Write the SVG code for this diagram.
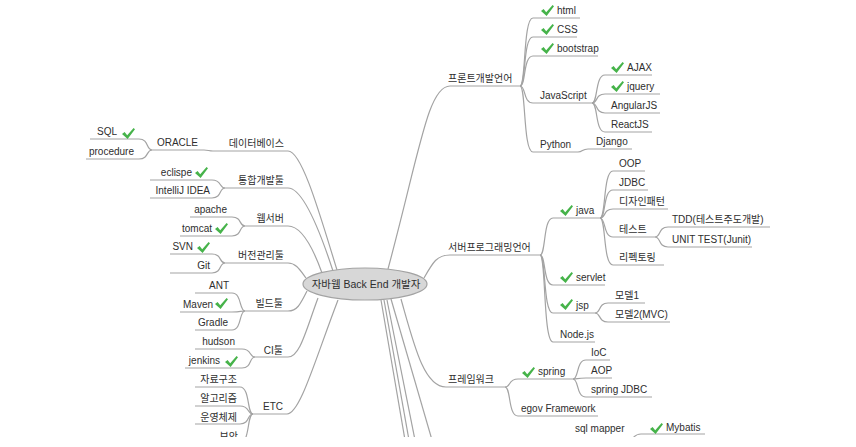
<svg xmlns="http://www.w3.org/2000/svg" width="856" height="447" viewBox="0 0 856 447">
<style>
.c{fill:none;stroke:#a3a3a3;stroke-width:1.2}
text{font-family:"Liberation Sans","Noto Sans CJK KR",sans-serif;font-size:10px;fill:#2e2e2e}
.e{text-anchor:end}
.ck{fill:#46b34a}
</style>
<defs>
<clipPath id="clip"><rect x="0" y="0" width="856" height="437"/></clipPath>
<path id="chk" d="M0,6 L2.6,4 L5.2,7.2 L11.6,0 L13,1.3 L5.6,11 Z"/>
</defs>
<rect x="0" y="0" width="856" height="447" fill="#ffffff"/>
<g clip-path="url(#clip)">
<g id="connectors">
<path class="c" d="M388,269 C420,150 428,86 450,86 H520"/>
<path class="c" d="M424,278 C433,262 437,255 450,255 H540"/>
<path class="c" d="M401,299 C414,345 424,387 446,387 H505"/>
<path class="c" d="M381,300 L405,440"/>
<path class="c" d="M384,300 L409,440"/>
<path class="c" d="M387,300 L415,440"/>
<path class="c" d="M391,299 L432,440"/>
<path class="c" d="M520,86 C526,86 523,18 533,18 H580"/>
<path class="c" d="M520,86 C526,86 523,37 533,37 H577"/>
<path class="c" d="M520,86 C526,86 523,56 533,56 H598"/>
<path class="c" d="M520,86 C526,86 523,103 533,103 H592"/>
<path class="c" d="M520,86 C526,86 523,152 533,152 H578"/>
<path class="c" d="M578,152 C583,152 582,149 588,149 H632"/>
<path class="c" d="M592,103 C598,103 595,75 605,75 H652"/>
<path class="c" d="M592,103 C598,103 595,94 605,94 H660"/>
<path class="c" d="M592,103 C598,103 595,113 605,113 H660"/>
<path class="c" d="M592,103 C598,103 595,132 605,132 H652"/>
<path class="c" d="M540,255 C546,255 543,218 553,218 H600"/>
<path class="c" d="M540,255 C546,255 543,285 553,285 H605"/>
<path class="c" d="M540,255 C546,255 543,313 553,313 H595"/>
<path class="c" d="M540,255 C546,255 543,342 553,342 H595"/>
<path class="c" d="M600,218 C606,218 603,171 613,171 H645"/>
<path class="c" d="M600,218 C606,218 603,190 613,190 H648"/>
<path class="c" d="M600,218 C606,218 603,209 613,209 H668"/>
<path class="c" d="M600,218 C606,218 603,237 613,237 H655"/>
<path class="c" d="M600,218 C606,218 603,265 613,265 H664"/>
<path class="c" d="M655,237 C661,237 658,227 668,227 H770"/>
<path class="c" d="M655,237 C661,237 658,247 668,247 H752"/>
<path class="c" d="M595,313 C601,313 598,303 608,303 H645"/>
<path class="c" d="M595,313 C601,313 598,322 608,322 H670"/>
<path class="c" d="M505,387 C511,387 508,379 518,379 H573"/>
<path class="c" d="M505,387 C511,387 508,416 518,416 H598"/>
<path class="c" d="M573,379 C579,379 576,360 586,360 H610"/>
<path class="c" d="M573,379 C579,379 576,378 586,378 H612"/>
<path class="c" d="M573,379 C579,379 576,397 586,397 H652"/>
<path class="c" d="M628,440 C634,440 633,434 641,434 H705"/>
<path class="c" d="M337,270 C320,215 302,151 288,151 H213"/>
<path class="c" d="M213,151 C209,151 208,150 204,150 H152"/>
<path class="c" d="M333,271 C318,225 302,188 288,188 H225"/>
<path class="c" d="M322,273 C312,245 300,226 288,226 H245"/>
<path class="c" d="M306,278 C300,270 296,263 288,263 H225"/>
<path class="c" d="M307,291 C300,305 297,311 288,311 H245"/>
<path class="c" d="M318,298 C306,330 300,357 288,357 H255"/>
<path class="c" d="M338,300 C315,360 300,414 287,414 H253"/>
<path class="c" d="M152,150 C146,150 149,139 139,139 H90"/>
<path class="c" d="M152,150 C146,150 149,159 139,159 H86"/>
<path class="c" d="M225,188 C219,188 222,180 212,180 H150"/>
<path class="c" d="M225,188 C219,188 222,198 212,198 H150"/>
<path class="c" d="M245,226 C239,226 242,217 232,217 H190"/>
<path class="c" d="M245,226 C239,226 242,236 232,236 H180"/>
<path class="c" d="M225,263 C219,263 222,254 212,254 H170"/>
<path class="c" d="M225,263 C219,263 222,273 212,273 H170"/>
<path class="c" d="M245,311 C239,311 242,293 232,293 H195"/>
<path class="c" d="M245,311 C239,311 242,312 232,312 H180"/>
<path class="c" d="M245,311 C239,311 242,330 232,330 H195"/>
<path class="c" d="M255,357 C249,357 252,349 242,349 H195"/>
<path class="c" d="M255,357 C249,357 252,368 242,368 H185"/>
<path class="c" d="M253,414 C247,414 250,387 240,387 H195"/>
<path class="c" d="M253,414 C247,414 250,406 240,406 H195"/>
<path class="c" d="M253,414 C247,414 250,424 240,424 H195"/>
<path class="c" d="M253,414 C247,414 250,443 240,443 H205"/>
</g>
<g id="n-root">
<ellipse cx="365" cy="284" rx="62" ry="16" fill="#d7d7d7" stroke="#a3a3a3" stroke-width="1.2"/>
<text x="366" y="288" text-anchor="middle" style="font-size:10.5px">자바웹 Back End 개발자</text>
</g>
<g id="n-front"><text x="448" y="82">프론트개발언어</text></g>
<g id="n-html"><use href="#chk" class="ck" x="541" y="5"/><text x="557" y="14">html</text></g>
<g id="n-css"><use href="#chk" class="ck" x="541" y="24"/><text x="557" y="33">CSS</text></g>
<g id="n-bootstrap"><use href="#chk" class="ck" x="541" y="43"/><text x="557" y="52">bootstrap</text></g>
<g id="n-javascript"><text x="540" y="99">JavaScript</text></g>
<g id="n-ajax"><use href="#chk" class="ck" x="611" y="62"/><text x="627" y="71">AJAX</text></g>
<g id="n-jquery"><use href="#chk" class="ck" x="611" y="81"/><text x="627" y="90">jquery</text></g>
<g id="n-angular"><text x="611" y="109">AngularJS</text></g>
<g id="n-react"><text x="611" y="128">ReactJS</text></g>
<g id="n-python"><text x="540" y="148">Python</text></g>
<g id="n-django"><text x="596" y="145">Django</text></g>
<g id="n-server"><text x="448" y="251">서버프로그래밍언어</text></g>
<g id="n-java"><use href="#chk" class="ck" x="560" y="205"/><text x="576" y="214">java</text></g>
<g id="n-oop"><text x="619" y="167">OOP</text></g>
<g id="n-jdbc"><text x="619" y="186">JDBC</text></g>
<g id="n-pattern"><text x="619" y="205">디자인패턴</text></g>
<g id="n-test"><text x="619" y="233">테스트</text></g>
<g id="n-tdd"><text x="672" y="223">TDD(테스트주도개발)</text></g>
<g id="n-unit"><text x="672" y="243">UNIT TEST(Junit)</text></g>
<g id="n-refactor"><text x="619" y="261">리펙토링</text></g>
<g id="n-servlet"><use href="#chk" class="ck" x="560" y="272"/><text x="576" y="281">servlet</text></g>
<g id="n-jsp"><use href="#chk" class="ck" x="560" y="299"/><text x="576" y="309">jsp</text></g>
<g id="n-model1"><text x="615" y="299">모델1</text></g>
<g id="n-model2"><text x="615" y="318">모델2(MVC)</text></g>
<g id="n-node"><text x="560" y="338">Node.js</text></g>
<g id="n-framework"><text x="448" y="383">프레임워크</text></g>
<g id="n-spring"><use href="#chk" class="ck" x="522" y="367"/><text x="538" y="375">spring</text></g>
<g id="n-ioc"><text x="591" y="356">IoC</text></g>
<g id="n-aop"><text x="591" y="374">AOP</text></g>
<g id="n-springjdbc"><text x="591" y="393">spring JDBC</text></g>
<g id="n-egov"><text x="521" y="412">egov Framework</text></g>
<g id="n-sqlmapper"><text x="575" y="432">sql mapper</text></g>
<g id="n-mybatis"><use href="#chk" class="ck" x="650" y="423"/><text x="666" y="431">Mybatis</text></g>
<g id="n-db"><text class="e" x="284" y="147">데이터베이스</text></g>
<g id="n-oracle"><text class="e" x="198" y="146">ORACLE</text></g>
<g id="n-sql"><text class="e" x="117" y="135">SQL</text><use href="#chk" class="ck" x="122" y="128"/></g>
<g id="n-procedure"><text class="e" x="134" y="155">procedure</text></g>
<g id="n-ide"><text class="e" x="284" y="184">통합개발툴</text></g>
<g id="n-eclipse"><text class="e" x="192" y="176">eclispe</text><use href="#chk" class="ck" x="195" y="167"/></g>
<g id="n-intellij"><text class="e" x="210" y="194">IntelliJ IDEA</text></g>
<g id="n-web"><text class="e" x="284" y="222">웹서버</text></g>
<g id="n-apache"><text class="e" x="227" y="213">apache</text></g>
<g id="n-tomcat"><text class="e" x="212" y="232">tomcat</text><use href="#chk" class="ck" x="215" y="223"/></g>
<g id="n-vcs"><text class="e" x="284" y="259">버전관리툴</text></g>
<g id="n-svn"><text class="e" x="193" y="250">SVN</text><use href="#chk" class="ck" x="197" y="242"/></g>
<g id="n-git"><text class="e" x="210" y="269">Git</text></g>
<g id="n-build"><text class="e" x="283" y="307">빌드툴</text></g>
<g id="n-ant"><text class="e" x="229" y="289">ANT</text></g>
<g id="n-maven"><text class="e" x="213" y="308">Maven</text><use href="#chk" class="ck" x="215" y="298"/></g>
<g id="n-gradle"><text class="e" x="228" y="326">Gradle</text></g>
<g id="n-ci"><text class="e" x="283" y="354">CI툴</text></g>
<g id="n-hudson"><text class="e" x="235" y="345">hudson</text></g>
<g id="n-jenkins"><text class="e" x="220" y="364">jenkins</text><use href="#chk" class="ck" x="225" y="356"/></g>
<g id="n-etc"><text class="e" x="283" y="410">ETC</text></g>
<g id="n-ds"><text class="e" x="237" y="383">자료구조</text></g>
<g id="n-algo"><text class="e" x="237" y="402">알고리즘</text></g>
<g id="n-os"><text class="e" x="237" y="421">운영체제</text></g>
<g id="n-security"><text class="e" x="238" y="440">보안</text></g>
</g>
</svg>
